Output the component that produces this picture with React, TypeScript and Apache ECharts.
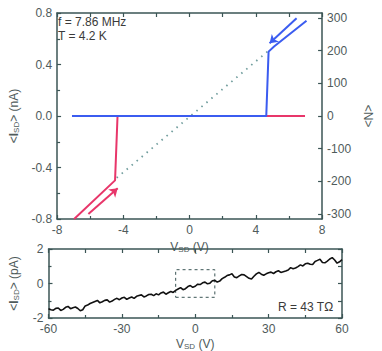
import React, { useEffect, useRef } from "react";
import * as echarts from "echarts";

// Top panel: V_SD (V) vs <I_SD> (nA)
const sweepUpV = [-6.97, -4.5, -4.35, 6.97];
const sweepUpI = [-0.8, -0.5, 0, 0];
const sweepDownV = [7.06, 5.1, 4.77, 4.63, -7.1];
const sweepDownI = [0.74, 0.54, 0.5, 0, 0];
const ohmicV = [-4.4, 4.7];
const ohmicI = [-0.48, 0.5];
const arrowUpV = [-6.11, -4.34];
const arrowUpI = [-0.761, -0.562];
const arrowDownV = [6.46, 4.83];
const arrowDownI = [0.759, 0.565];
const nTicks = [-300, -200, -100, 0, 100, 200, 300];

// Bottom panel: V_SD (V) vs <I_SD> (pA)
const lowV = Array.from({ length: 121 }, (_, i) => i - 60);
const lowI = [
  -1.46, -1.52, -1.55, -1.44, -1.42, -1.56, -1.5, -1.38, -1.33, -1.46,
  -1.4, -1.36, -1.45, -1.58, -1.52, -1.3, -1.25, -1.16, -1.1, -1.04,
  -0.98, -1.12, -1.06, -0.98, -0.95, -1.08, -1.02, -0.92, -0.86, -0.94,
  -0.84, -0.8, -0.92, -0.84, -0.78, -0.86, -0.74, -0.7, -0.66, -0.78,
  -0.72, -0.64, -0.62, -0.7, -0.6, -0.66, -0.55, -0.5, -0.62, -0.54,
  -0.46, -0.52, -0.4, -0.32, -0.24, -0.36, -0.3, -0.18, -0.12, -0.22,
  -0.16, -0.04, -0.06, 0.04, 0.08, -0.02, 0.02, 0.16, 0.18, 0.08,
  0.14, 0.28, 0.36, 0.46, 0.5, 0.56, 0.38, 0.34, 0.44, 0.52,
  0.5, 0.4, 0.3, 0.26, 0.42, 0.56, 0.64, 0.54, 0.48, 0.56,
  0.62, 0.66, 0.58, 0.68, 0.74, 0.64, 0.68, 0.72, 0.78, 0.92,
  0.86, 0.9, 0.98, 1.08, 1.02, 1.14, 1.18, 1.12, 1.1, 1.28,
  1.34, 1.4, 1.22, 1.2, 1.3, 1.42, 1.5, 1.36, 1.18, 1.26, 1.38,
];
const zoomBoxV = [-8, 8];
const zoomBoxI = [-0.8, 0.8];

const AX = "#3b5555";
const LBL = "#4f5b5b";
const FONT = "Liberation Sans";
const RED = "#e8366a";
const BLUE = "#3b5cf0";

const zip = (a: number[], b: number[]) => a.map((v, i) => [v, b[i]]);

const richName = {
  v: { fontSize: 12, fontFamily: FONT, color: LBL },
  b: { fontSize: 12, fontFamily: FONT, color: LBL, fontWeight: "bold" as const },
  s: { fontSize: 8, fontFamily: FONT, color: LBL, verticalAlign: "bottom" as const, padding: [5, 0, 0, 0] },
};

const axisLine = { show: true, onZero: false, lineStyle: { color: AX, width: 1.5 } };
const tick = { show: true, inside: true, length: 4, lineStyle: { color: AX, width: 1.2 } };
const minor = { show: true, splitNumber: 2, length: 3, lineStyle: { color: AX, width: 1.2 } };
const label = { color: LBL, fontSize: 12, fontFamily: FONT };

export default function App() {
  const ref = useRef<HTMLDivElement>(null);
  useEffect(() => {
    document.body.style.margin = "0";
    const chart = echarts.init(ref.current!, undefined, { renderer: "svg" });
    chart.setOption({
      animation: false,
      backgroundColor: "#ffffff",
      grid: [
        { left: 47, top: 13, width: 294, height: 206 },
        { left: 47, top: 249, width: 295, height: 73 },
      ],
      xAxis: [
        {
          gridIndex: 0, type: "value", position: "bottom", min: -8, max: 8, interval: 4,
          axisLine, axisTick: tick, minorTick: minor, splitLine: { show: false },
          axisLabel: { ...label, margin: 5 },
          name: "{v|V}{s|SD} {v|(V)}", nameLocation: "middle", nameGap: 17,
          nameTextStyle: { rich: richName },
        },
        {
          gridIndex: 0, type: "value", position: "top", min: -8, max: 8, interval: 2,
          axisLine, axisTick: tick, splitLine: { show: false }, axisLabel: { show: false },
        },
        {
          gridIndex: 1, type: "value", position: "bottom", min: -60, max: 60, interval: 30,
          axisLine, axisTick: tick, minorTick: minor, splitLine: { show: false },
          axisLabel: { ...label, margin: 5 },
          name: "{v|V}{s|SD} {v|(V)}", nameLocation: "middle", nameGap: 19,
          nameTextStyle: { rich: richName },
        },
        {
          gridIndex: 1, type: "value", position: "top", min: -60, max: 60, interval: 15,
          axisLine, axisTick: tick, splitLine: { show: false }, axisLabel: { show: false },
        },
      ],
      yAxis: [
        {
          gridIndex: 0, type: "value", position: "left", min: -0.8, max: 0.8, interval: 0.4,
          axisLine, axisTick: tick, minorTick: minor, splitLine: { show: false },
          axisLabel: { ...label, margin: 5, formatter: (v: number) => (Math.abs(v) < 1e-9 ? 0 : v).toFixed(1) },
          name: "<{b|I}{s|SD}> {v|(nA)}", nameLocation: "middle", nameGap: 34,
          nameTextStyle: { rich: richName, color: LBL, fontSize: 12, fontFamily: FONT },
        },
        {
          gridIndex: 0, type: "value", position: "right", min: -315, max: 315,
          axisLine,
          axisTick: { ...tick, customValues: nTicks },
          splitLine: { show: false },
          axisLabel: { ...label, margin: 5, customValues: nTicks },
          name: "<N>", nameLocation: "middle", nameGap: 33, nameRotate: -90,
          nameTextStyle: { color: LBL, fontSize: 12, fontFamily: FONT },
        },
        {
          gridIndex: 1, type: "value", position: "left", min: -2, max: 2, interval: 2,
          axisLine, axisTick: tick, minorTick: minor, splitLine: { show: false },
          axisLabel: { ...label, margin: 5 },
          name: "<{b|I}{s|SD}> {v|(pA)}", nameLocation: "middle", nameGap: 28,
          nameTextStyle: { rich: richName, color: LBL, fontSize: 12, fontFamily: FONT },
        },
        {
          gridIndex: 1, type: "value", position: "right", min: -2, max: 2, interval: 1,
          axisLine, axisTick: tick, splitLine: { show: false }, axisLabel: { show: false },
        },
      ],
      series: [
        {
          type: "line", xAxisIndex: 0, yAxisIndex: 0, data: zip(ohmicV, ohmicI),
          symbol: "none", lineStyle: { color: "#6f9c9c", width: 1.8, type: [1.5, 5] }, z: 2,
        },
        {
          type: "line", xAxisIndex: 0, yAxisIndex: 0, data: zip(sweepUpV, sweepUpI),
          symbol: "none", lineStyle: { color: RED, width: 2 }, z: 3,
          markLine: {
            silent: true, symbol: ["none", "arrow"], symbolSize: 8,
            lineStyle: { color: RED, width: 2, type: "solid" }, label: { show: false },
            data: [[{ coord: [arrowUpV[0], arrowUpI[0]] }, { coord: [arrowUpV[1], arrowUpI[1]] }]],
          },
        },
        {
          type: "line", xAxisIndex: 0, yAxisIndex: 0, data: zip(sweepDownV, sweepDownI),
          symbol: "none", lineStyle: { color: BLUE, width: 2 }, z: 4,
          markLine: {
            silent: true, symbol: ["none", "arrow"], symbolSize: 8,
            lineStyle: { color: BLUE, width: 2, type: "solid" }, label: { show: false },
            data: [[{ coord: [arrowDownV[0], arrowDownI[0]] }, { coord: [arrowDownV[1], arrowDownI[1]] }]],
          },
        },
        {
          type: "line", xAxisIndex: 2, yAxisIndex: 2, data: zip(lowV, lowI),
          symbol: "none", lineStyle: { color: "#111111", width: 1.6 },
          markArea: {
            silent: true,
            itemStyle: { color: "rgba(0,0,0,0)", borderColor: AX, borderWidth: 1, borderType: [3, 3] },
            data: [[{ coord: [zoomBoxV[0], zoomBoxI[0]] }, { coord: [zoomBoxV[1], zoomBoxI[1]] }]],
          },
        },
      ],
      graphic: [
        { type: "text", left: 58, top: 16, z: 100, style: { text: "f = 7.86 MHz", fill: "#3a3a3a", fontSize: 12, fontFamily: FONT } },
        { type: "text", left: 58, top: 30, z: 100, style: { text: "T = 4.2 K", fill: "#3a3a3a", fontSize: 12, fontFamily: FONT } },
        { type: "text", left: 278, top: 301, z: 100, style: { text: "R = 43 TΩ", fill: "#3a3a3a", fontSize: 12, fontFamily: FONT } },
      ],
    });
    return () => chart.dispose();
  }, []);
  return <div ref={ref} style={{ width: 382, height: 351 }} />;
}
